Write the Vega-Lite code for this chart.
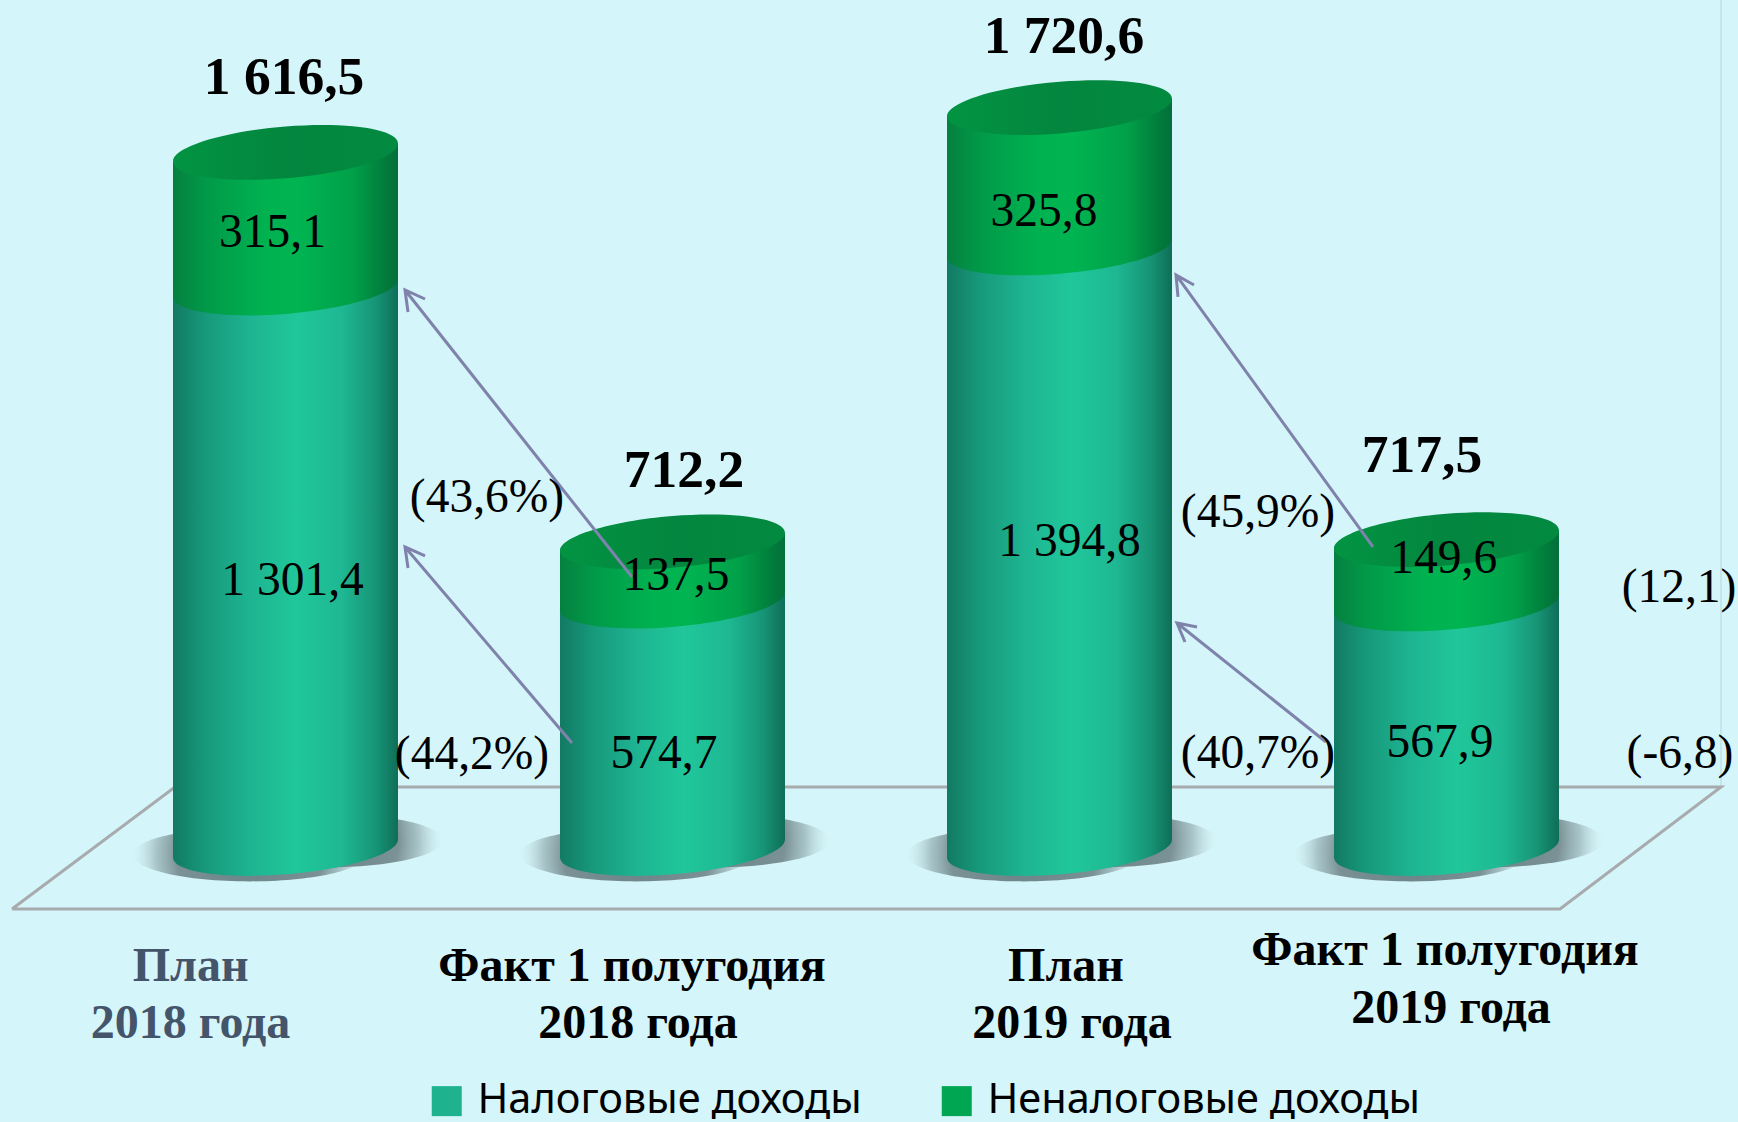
{
"$schema":"https://vega.github.io/schema/vega-lite/v6.json",
"autosize":{"type":"none"},
"width":1738,"height":1122,"padding":0,
"background":"#d4f5f9",
"config":{"view":{"stroke":null}},
"datasets":{
"segments":[
{"period":"План 2018 года","center":1,"segment":"Налоговые доходы","value":1301.4,"base":0,"top":1301.4,"label":"1 301,4","lx":1.0184,"ly":588.7},
{"period":"План 2018 года","center":1,"segment":"Неналоговые доходы","value":315.1,"base":1301.4,"top":1616.5,"label":"315,1","lx":0.9664,"ly":1396.9},
{"period":"Факт 1 полугодия 2018 года","center":2,"segment":"Налоговые доходы","value":574.7,"base":0,"top":574.7,"label":"574,7","lx":1.9781,"ly":187},
{"period":"Факт 1 полугодия 2018 года","center":2,"segment":"Неналоговые доходы","value":137.5,"base":574.7,"top":712.2,"label":"137,5","lx":2.009,"ly":600.3},
{"period":"План 2019 года","center":3,"segment":"Налоговые доходы","value":1394.8,"base":0,"top":1394.8,"label":"1 394,8","lx":3.0261,"ly":679.3},
{"period":"План 2019 года","center":3,"segment":"Неналоговые доходы","value":325.8,"base":1394.8,"top":1720.6,"label":"325,8","lx":2.96,"ly":1445.7},
{"period":"Факт 1 полугодия 2019 года","center":4,"segment":"Налоговые доходы","value":567.9,"base":0,"top":567.9,"label":"567,9","lx":3.9833,"ly":212.5},
{"period":"Факт 1 полугодия 2019 года","center":4,"segment":"Неналоговые доходы","value":149.6,"base":567.9,"top":717.5,"label":"149,6","lx":3.993,"ly":639.8}
],
"taxSides":[
{"c":1,"x":0.7093,"low":-20,"high":1281.4},{"c":1,"x":1.2907,"low":20,"high":1321.4},
{"c":2,"x":1.7093,"low":-20,"high":554.7},{"c":2,"x":2.2907,"low":20,"high":594.7},
{"c":3,"x":2.7093,"low":-20,"high":1374.8},{"c":3,"x":3.2907,"low":20,"high":1414.8},
{"c":4,"x":3.7093,"low":-20,"high":547.9},{"c":4,"x":4.2907,"low":20,"high":587.9}
],
"nontaxSides":[
{"c":1,"x":0.7093,"low":1281.4,"high":1596.5},{"c":1,"x":1.2907,"low":1321.4,"high":1636.5},
{"c":2,"x":1.7093,"low":554.7,"high":692.2},{"c":2,"x":2.2907,"low":594.7,"high":732.2},
{"c":3,"x":2.7093,"low":1374.8,"high":1700.6},{"c":3,"x":3.2907,"low":1414.8,"high":1740.6},
{"c":4,"x":3.7093,"low":547.9,"high":697.5},{"c":4,"x":4.2907,"low":587.9,"high":737.5}
],
"totals":[
{"label":"1 616,5","x":0.9962,"y":1752.2},
{"label":"712,2","x":2.0297,"y":839.5},
{"label":"1 720,6","x":3.0116,"y":1847.4},
{"label":"717,5","x":3.9367,"y":874.4}
],
"changes":[
{"label":"(43,6%)","x":1.5207,"y":781.5},
{"label":"(44,2%)","x":1.4819,"y":184.7},
{"label":"(45,9%)","x":3.5129,"y":746.7},
{"label":"(40,7%)","x":3.5129,"y":187},
{"label":"(12,1)","x":4.6008,"y":572.5},
{"label":"(-6,8)","x":4.6034,"y":187}
],
"categories":[
{"label":"План","x":0.7548,"y":-307.7,"kind":"a"},
{"label":"2018 года","x":0.7548,"y":-440.1,"kind":"a"},
{"label":"Факт 1 полугодия","x":1.8954,"y":-307.7,"kind":"b"},
{"label":"2018 года","x":1.9109,"y":-440.1,"kind":"b"},
{"label":"План","x":3.0168,"y":-307.7,"kind":"b"},
{"label":"2019 года","x":3.0323,"y":-440.1,"kind":"b"},
{"label":"Факт 1 полугодия","x":3.9962,"y":-270.5,"kind":"b"},
{"label":"2019 года","x":4.0117,"y":-405.2,"kind":"b"}
],
"floor":[
{"s":1,"x":0.2933,"y":-140.5},{"s":2,"x":0.7145,"y":142.9},{"s":3,"x":4.7093,"y":142.9},{"s":4,"x":4.2933,"y":-140.5},{"s":5,"x":0.2933,"y":-140.5}
],
"wall":[{"s":1,"x":4.7093,"y":142.9},{"s":2,"x":4.7093,"y":1970}],
"arrows":[
{"a":1,"s":1,"x":1.8954,"y":630.5},{"a":1,"s":2,"x":1.3088,"y":1297},{"a":1,"s":3,"x":1.3605,"y":1276.1},{"a":1,"s":4,"x":1.3088,"y":1297},{"a":1,"s":5,"x":1.3166,"y":1246},
{"a":2,"s":1,"x":1.7403,"y":245},{"a":2,"s":2,"x":1.3088,"y":700.2},{"a":2,"s":3,"x":1.3605,"y":679.3},{"a":2,"s":4,"x":1.3088,"y":700.2},{"a":2,"s":5,"x":1.3166,"y":651.4},
{"a":3,"s":1,"x":3.8101,"y":700.2},{"a":3,"s":2,"x":3.3011,"y":1331.9},{"a":3,"s":3,"x":3.3475,"y":1308.7},{"a":3,"s":4,"x":3.3011,"y":1331.9},{"a":3,"s":5,"x":3.3062,"y":1280.8},
{"a":4,"s":1,"x":3.6887,"y":247.3},{"a":4,"s":2,"x":3.3036,"y":523.7},{"a":4,"s":3,"x":3.3553,"y":514.4},{"a":4,"s":4,"x":3.3036,"y":523.7},{"a":4,"s":5,"x":3.3243,"y":479.6}
]
},
"layer":[
{"data":{"name":"wall"},"mark":{"type":"line","color":"#c4e6e9","strokeWidth":2},
"encoding":{"x":{"field":"x","type":"quantitative","scale":{"domain":[0.2623,4.7532],"nice":false,"zero":false},"axis":null},"y":{"field":"y","type":"quantitative","scale":{"domain":[-635.2,1970.5],"nice":false,"zero":false},"axis":null},"order":{"field":"s"}}},
{"data":{"name":"floor"},"mark":{"type":"line","color":"#a8abad","strokeWidth":3},
"encoding":{"x":{"field":"x","type":"quantitative","scale":{"domain":[0.2623,4.7532],"nice":false,"zero":false},"axis":null},"y":{"field":"y","type":"quantitative","scale":{"domain":[-635.2,1970.5],"nice":false,"zero":false},"axis":null},"order":{"field":"s"}}},
{"data":{"name":"segments"},"transform":[{"filter":"datum.base==0"}],
"mark":{"type":"point","filled":true,"opacity":1,"size":54756,"strokeWidth":0,"xOffset":-36,"yOffset":6,
"shape":"M1,0 C1,.127 .5523,.23 0,.23 C-.5523,.23 -1,.127 -1,0 C-1,-.127 -.5523,-.23 0,-.23 C.5523,-.23 1,-.127 1,0 Z",
"fill":{"gradient":"radial","x1":0.5,"y1":0.5,"r1":0,"x2":0.5,"y2":0.5,"r2":0.5,"stops":[{"offset":0,"color":"#6a8286"},{"offset":0.62,"color":"#7a9195"},{"offset":0.8,"color":"rgba(140,165,169,0.6)"},{"offset":1,"color":"rgba(200,225,229,0)"}]}},
"encoding":{"x":{"field":"center","type":"quantitative","scale":{"domain":[0.2623,4.7532],"nice":false,"zero":false},"axis":null},"y":{"field":"base","type":"quantitative","scale":{"domain":[-635.2,1970.5],"nice":false,"zero":false},"axis":null}}},
{"data":{"name":"segments"},"transform":[{"filter":"datum.base==0"}],
"mark":{"type":"point","filled":true,"opacity":1,"size":54756,"strokeWidth":0,"xOffset":40,"yOffset":-8,
"shape":"M1,0 C1,.127 .5523,.23 0,.23 C-.5523,.23 -1,.127 -1,0 C-1,-.127 -.5523,-.23 0,-.23 C.5523,-.23 1,-.127 1,0 Z",
"fill":{"gradient":"radial","x1":0.5,"y1":0.5,"r1":0,"x2":0.5,"y2":0.5,"r2":0.5,"stops":[{"offset":0,"color":"#6a8286"},{"offset":0.62,"color":"#7a9195"},{"offset":0.8,"color":"rgba(140,165,169,0.6)"},{"offset":1,"color":"rgba(200,225,229,0)"}]}},
"encoding":{"x":{"field":"center","type":"quantitative","scale":{"domain":[0.2623,4.7532],"nice":false,"zero":false},"axis":null},"y":{"field":"base","type":"quantitative","scale":{"domain":[-635.2,1970.5],"nice":false,"zero":false},"axis":null}}},
{"data":{"name":"segments"},"transform":[{"filter":"datum.base==0"}],
"mark":{"type":"point","filled":true,"opacity":1,"size":50625,"strokeWidth":0,
"shape":"M1,-.08 C1,.047 .5523,.1858 0,.23 C-.5523,.2742 -1,.207 -1,.08 C-1,-.047 -.5523,-.1858 0,-.23 C.5523,-.2742 1,-.207 1,-.08 Z",
"fill":{"gradient":"linear","x1":0,"x2":1,"y1":0,"y2":0,"stops":[{"offset":0,"color":"#127a62"},{"offset":0.15,"color":"#179a7c"},{"offset":0.35,"color":"#1eb592"},{"offset":0.55,"color":"#20c79a"},{"offset":0.75,"color":"#1eb893"},{"offset":0.9,"color":"#179576"},{"offset":1,"color":"#0f6e58"}]}},
"encoding":{"x":{"field":"center","type":"quantitative","scale":{"domain":[0.2623,4.7532],"nice":false,"zero":false},"axis":null},"y":{"field":"base","type":"quantitative","scale":{"domain":[-635.2,1970.5],"nice":false,"zero":false},"axis":null}}},
{"data":{"name":"taxSides"},
"mark":{"type":"area","orient":"vertical","opacity":1,
"fill":{"gradient":"linear","x1":0,"x2":1,"y1":0,"y2":0,"stops":[{"offset":0,"color":"#127a62"},{"offset":0.15,"color":"#179a7c"},{"offset":0.35,"color":"#1eb592"},{"offset":0.55,"color":"#20c79a"},{"offset":0.75,"color":"#1eb893"},{"offset":0.9,"color":"#179576"},{"offset":1,"color":"#0f6e58"}]}},
"encoding":{"x":{"field":"x","type":"quantitative","scale":{"domain":[0.2623,4.7532],"nice":false,"zero":false},"axis":null},"y":{"field":"high","type":"quantitative","scale":{"domain":[-635.2,1970.5],"nice":false,"zero":false},"axis":null},"y2":{"field":"low"},"detail":{"field":"c"}}},
{"data":{"name":"nontaxSides"},
"mark":{"type":"area","orient":"vertical","opacity":1,
"fill":{"gradient":"linear","x1":0,"x2":1,"y1":0,"y2":0,"stops":[{"offset":0,"color":"#05803f"},{"offset":0.15,"color":"#019a49"},{"offset":0.4,"color":"#00b150"},{"offset":0.55,"color":"#00b551"},{"offset":0.8,"color":"#01a049"},{"offset":0.95,"color":"#017a3a"},{"offset":1,"color":"#056e3c"}]}},
"encoding":{"x":{"field":"x","type":"quantitative","scale":{"domain":[0.2623,4.7532],"nice":false,"zero":false},"axis":null},"y":{"field":"high","type":"quantitative","scale":{"domain":[-635.2,1970.5],"nice":false,"zero":false},"axis":null},"y2":{"field":"low"},"detail":{"field":"c"}}},
{"data":{"name":"segments"},"transform":[{"filter":"datum.base>0"}],
"mark":{"type":"point","filled":true,"opacity":1,"size":50625,"strokeWidth":0,
"shape":"M1,-.08 C1,.047 .5523,.1858 0,.23 C-.5523,.2742 -1,.207 -1,.08 C-1,-.047 -.5523,-.1858 0,-.23 C.5523,-.2742 1,-.207 1,-.08 Z",
"fill":{"gradient":"linear","x1":0,"x2":1,"y1":0,"y2":0,"stops":[{"offset":0,"color":"#05803f"},{"offset":0.15,"color":"#019a49"},{"offset":0.4,"color":"#00b150"},{"offset":0.55,"color":"#00b551"},{"offset":0.8,"color":"#01a049"},{"offset":0.95,"color":"#017a3a"},{"offset":1,"color":"#056e3c"}]}},
"encoding":{"x":{"field":"center","type":"quantitative","scale":{"domain":[0.2623,4.7532],"nice":false,"zero":false},"axis":null},"y":{"field":"base","type":"quantitative","scale":{"domain":[-635.2,1970.5],"nice":false,"zero":false},"axis":null}}},
{"data":{"name":"segments"},"transform":[{"filter":"datum.base>0"}],
"mark":{"type":"point","filled":true,"opacity":1,"size":50625,"strokeWidth":0,
"shape":"M1,-.08 C1,.047 .5523,.1858 0,.23 C-.5523,.2742 -1,.207 -1,.08 C-1,-.047 -.5523,-.1858 0,-.23 C.5523,-.2742 1,-.207 1,-.08 Z",
"fill":{"gradient":"linear","x1":0,"x2":1,"y1":0,"y2":0,"stops":[{"offset":0,"color":"#029442"},{"offset":0.5,"color":"#03863f"},{"offset":1,"color":"#028a40"}]}},
"encoding":{"x":{"field":"center","type":"quantitative","scale":{"domain":[0.2623,4.7532],"nice":false,"zero":false},"axis":null},"y":{"field":"top","type":"quantitative","scale":{"domain":[-635.2,1970.5],"nice":false,"zero":false},"axis":null}}},
{"data":{"name":"arrows"},"mark":{"type":"line","color":"#7f83ab","strokeWidth":3},
"encoding":{"x":{"field":"x","type":"quantitative","scale":{"domain":[0.2623,4.7532],"nice":false,"zero":false},"axis":null},"y":{"field":"y","type":"quantitative","scale":{"domain":[-635.2,1970.5],"nice":false,"zero":false},"axis":null},"detail":{"field":"a"},"order":{"field":"s"}}},
{"data":{"name":"segments"},"mark":{"type":"text","font":"Liberation Serif","fontSize":47.5,"align":"center","baseline":"alphabetic","color":"#000000"},
"encoding":{"x":{"field":"lx","type":"quantitative","scale":{"domain":[0.2623,4.7532],"nice":false,"zero":false},"axis":null},"y":{"field":"ly","type":"quantitative","scale":{"domain":[-635.2,1970.5],"nice":false,"zero":false},"axis":null},"text":{"field":"label"}}},
{"data":{"name":"changes"},"mark":{"type":"text","font":"Liberation Serif","fontSize":47.5,"align":"center","baseline":"alphabetic","color":"#000000"},
"encoding":{"x":{"field":"x","type":"quantitative","scale":{"domain":[0.2623,4.7532],"nice":false,"zero":false},"axis":null},"y":{"field":"y","type":"quantitative","scale":{"domain":[-635.2,1970.5],"nice":false,"zero":false},"axis":null},"text":{"field":"label"}}},
{"data":{"name":"totals"},"mark":{"type":"text","font":"Liberation Serif","fontSize":53.5,"fontWeight":"bold","align":"center","baseline":"alphabetic","color":"#000000"},
"encoding":{"x":{"field":"x","type":"quantitative","scale":{"domain":[0.2623,4.7532],"nice":false,"zero":false},"axis":null},"y":{"field":"y","type":"quantitative","scale":{"domain":[-635.2,1970.5],"nice":false,"zero":false},"axis":null},"text":{"field":"label"}}},
{"data":{"name":"categories"},"transform":[{"filter":"datum.kind=='a'"}],"mark":{"type":"text","font":"Liberation Serif","fontSize":48,"fontWeight":"bold","align":"center","baseline":"alphabetic","color":"#44546a"},
"encoding":{"x":{"field":"x","type":"quantitative","scale":{"domain":[0.2623,4.7532],"nice":false,"zero":false},"axis":null},"y":{"field":"y","type":"quantitative","scale":{"domain":[-635.2,1970.5],"nice":false,"zero":false},"axis":null},"text":{"field":"label"}}},
{"data":{"name":"categories"},"transform":[{"filter":"datum.kind=='b'"}],"mark":{"type":"text","font":"Liberation Serif","fontSize":48,"fontWeight":"bold","align":"center","baseline":"alphabetic","color":"#000000"},
"encoding":{"x":{"field":"x","type":"quantitative","scale":{"domain":[0.2623,4.7532],"nice":false,"zero":false},"axis":null},"y":{"field":"y","type":"quantitative","scale":{"domain":[-635.2,1970.5],"nice":false,"zero":false},"axis":null},"text":{"field":"label"}}},
{"data":{"name":"segments"},"mark":{"type":"point","filled":true,"size":0,"opacity":1,"shape":"square"},
"encoding":{"x":{"field":"center","type":"quantitative","scale":{"domain":[0.2623,4.7532],"nice":false,"zero":false},"axis":null},"y":{"field":"base","type":"quantitative","scale":{"domain":[-635.2,1970.5],"nice":false,"zero":false},"axis":null},
"color":{"field":"segment","type":"nominal","scale":{"domain":["Налоговые доходы","Неналоговые доходы"],"range":["#1eb28e","#00a651"]},
"legend":{"title":null,"orient":"none","legendX":426,"legendY":1080,"direction":"horizontal","symbolType":"square","symbolSize":900,"symbolStrokeWidth":0,"labelFont":"Noto Sans","labelFontSize":41.5,"labelColor":"#000000","labelOffset":10,"columnPadding":74,"labelLimit":600}}}}
]
}
